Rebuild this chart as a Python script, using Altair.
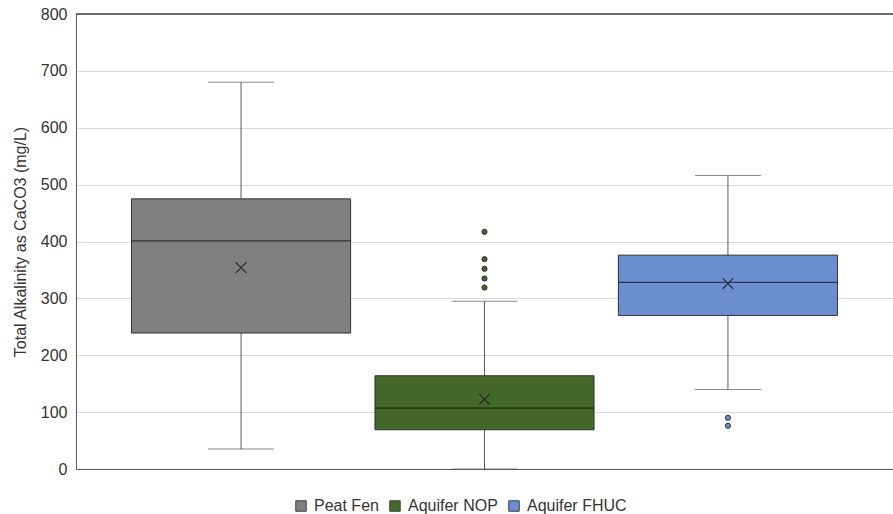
import altair as alt
import pandas as pd

# Summary statistics of total alkalinity (mg/L as CaCO3) per water source
groups = ["Peat Fen", "Aquifer NOP", "Aquifer FHUC"]
colors = ["#7f7f7f", "#43682b", "#6a8ed0"]
whisker_low = [35, 0, 140]
q1 = [239, 69, 270]
median = [401, 107, 328]
q3 = [475, 164, 376]
whisker_high = [680, 295, 516]
means = [354, 123, 326]

# Individual outlying samples
outlier_groups = ["Aquifer NOP"] * 5 + ["Aquifer FHUC"] * 2
outlier_values = [417, 369, 352, 335, 319, 90, 76]

stats = pd.DataFrame({
    "group": groups,
    "lo": whisker_low,
    "q1": q1,
    "median": median,
    "q3": q3,
    "hi": whisker_high,
    "mean": means,
})
outliers = pd.DataFrame({"group": outlier_groups, "value": outlier_values})

FRAME = "#595959"
TEXT = "#333333"

x_enc = alt.X(
    "group:N",
    sort=groups,
    scale=alt.Scale(paddingInner=0.1, paddingOuter=0.228),
    axis=alt.Axis(labels=False, ticks=False, title=None, domain=True,
                  domainColor=FRAME, grid=False),
)
y_scale = alt.Scale(domain=[0, 800], nice=False)
color_enc = alt.Color(
    "group:N",
    sort=groups,
    scale=alt.Scale(domain=groups, range=colors),
    legend=alt.Legend(
        title=None, orient="none", legendX=217, legendY=484,
        direction="horizontal", symbolType="square", symbolSize=110,
        symbolStrokeColor="#404040", symbolStrokeWidth=1, symbolOpacity=1,
        labelFontSize=16, labelColor=TEXT, labelOffset=5,
        columnPadding=8, padding=0,
    ),
)

base = alt.Chart(stats).encode(x=x_enc)

whiskers = base.mark_rule(color=FRAME, strokeWidth=1).encode(
    y=alt.Y("lo:Q", scale=y_scale,
            title="Total Alkalinity as CaCO3 (mg/L)",
            axis=alt.Axis(values=list(range(0, 801, 100)), ticks=False,
                          labelPadding=9, gridColor="#d9d9d9",
                          domainColor=FRAME, titlePadding=12)),
    y2="hi:Q",
)

cap_low = base.mark_tick(size=66, thickness=1, color=FRAME).encode(y="lo:Q")
cap_high = base.mark_tick(size=66, thickness=1, color=FRAME).encode(y="hi:Q")

boxes = base.mark_bar(stroke="#262626", strokeWidth=1, strokeOpacity=0.9).encode(
    y="q1:Q", y2="q3:Q", color=color_enc
)

medians = base.mark_tick(size=219, thickness=1.2, color="#000000", opacity=0.6).encode(
    y="median:Q"
)

mean_marks = base.mark_point(
    shape="M-1,-1L1,1M-1,1L1,-1", size=110, filled=False,
    color="#262626", strokeWidth=1.1, opacity=1,
).encode(y="mean:Q")

outlier_marks = alt.Chart(outliers).mark_point(
    filled=True, size=26, stroke="#2b2b2b", strokeWidth=1, opacity=1
).encode(x=x_enc, y="value:Q", color=color_enc)

top_line = alt.Chart(stats).mark_rule(color=FRAME, strokeWidth=1).encode(
    y=alt.datum(800)
)

chart = alt.layer(
    whiskers, cap_low, cap_high, boxes, medians, mean_marks, outlier_marks, top_line
).properties(
    width=817,
    height=455,
    autosize=alt.AutoSizeParams(type="none"),
    padding={"left": 76, "top": 14, "right": 0, "bottom": 45},
).configure(
    font="Liberation Sans",
).configure_view(
    stroke=None,
).configure_axis(
    labelFontSize=16, titleFontSize=16, labelColor=TEXT, titleColor=TEXT,
    titleFontWeight="normal", labelFont="Liberation Sans", titleFont="Liberation Sans",
)

chart.save("out.html", embed_options={"renderer": "svg", "actions": False})
